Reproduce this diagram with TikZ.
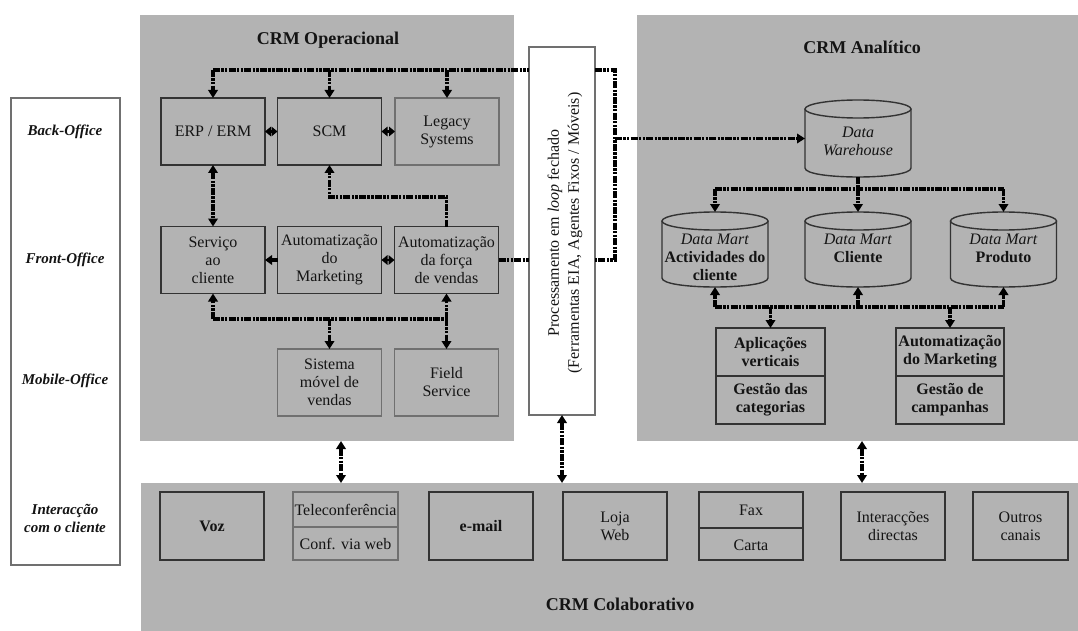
\documentclass[tikz,border=0pt]{standalone}
\usepackage{fontspec}
\setmainfont{Liberation Serif}
\usetikzlibrary{arrows.meta,calc}
\definecolor{pgray}{HTML}{B3B3B3}
\definecolor{bdark}{HTML}{333333}
\definecolor{blight}{HTML}{707070}
\definecolor{ink}{HTML}{141414}
\newcommand\dbcyl[3]{%
  \fill[pgray] ({#1-53},{#2+9}) -- ({#1-53},{#3-9}) .. controls ({#1-53},{#3+3}) and ({#1+53},{#3+3}) .. ({#1+53},{#3-9}) -- ({#1+53},{#2+9}) -- cycle;
  \draw[bdark,line width=1.4] ({#1-53},{#2+9}) -- ({#1-53},{#3-9}) .. controls ({#1-53},{#3+3}) and ({#1+53},{#3+3}) .. ({#1+53},{#3-9}) -- ({#1+53},{#2+9});
  \draw[bdark,line width=1.4,fill=pgray] (#1,{#2+9}) ellipse (53 and 9);}
\begin{document}
\begin{tikzpicture}[x=1pt,y=-1pt,
  every node/.style={text=ink},
  panel/.style={fill=pgray,draw=none,inner sep=0,outer sep=0},
  box/.style={draw=bdark,line width=1.4,fill=pgray,inner sep=0,outer sep=0,align=center,
    minimum width=104,minimum height=67,font=\fontsize{16}{18}\selectfont},
  lbox/.style={box,draw=blight},
  txt/.style={inner sep=0,align=center,font=\fontsize{16}{18}\selectfont},
  btxt/.style={txt,font=\fontsize{16}{18}\selectfont\bfseries},
  title/.style={inner sep=0,font=\fontsize{18}{20}\selectfont\bfseries},
  side/.style={inner sep=0,align=center,font=\fontsize{15}{18}\selectfont\bfseries\itshape},
  conn/.style={line width=3.2,dash pattern=on 7pt off 1.3pt on 2.4pt off 1.3pt on 2.4pt off 1.3pt},
  >={Triangle[length=8pt,width=9.5pt]},
  short/.style={line width=2.6,{Triangle[length=6pt,width=9.5pt]}-{Triangle[length=6pt,width=9.5pt]}},
  shortr/.style={conn,-{Triangle[length=7pt,width=9.5pt]}}
]
\useasboundingbox (0,0) rectangle (1078,631);
\fill[white] (0,0) rectangle (1078,631);

% panels
\node[panel,minimum width=374,minimum height=426] (op) at (327,228) {};
\node[panel,minimum width=441,minimum height=426] (an) at (857.5,228) {};
\node[panel,minimum width=937,minimum height=148] (col) at (609.5,557) {};
\node[title] (opt) at (328,40) {CRM Operacional};
\node[title] (ant) at (862,47) {CRM Analítico};
\node[title] (colt) at (620,604) {CRM Colaborativo};

% left label column
\node[draw=blight,fill=white,line width=1.3,inner sep=0,minimum width=109,minimum height=467] (lb) at (65.5,331.5) {};
\node[side] (l1) at (65,132) {Back-Office};
\node[side] (l2) at (65,260) {Front-Office};
\node[side] (l3) at (65,381) {Mobile-Office};
\node[side] (l4) at (65,518) {Interacção\\com o cliente};

% processing box
\node[draw=blight,fill=white,line width=1.3,inner sep=0,outer sep=0,minimum width=66,minimum height=368] (proc) at (562,231) {};
\node[txt,rotate=90,font=\fontsize{16}{20}\selectfont] (proct) at (565,233) {Processamento em \textit{loop} fechado\\(Ferramentas EIA, Agentes Fixos / Móveis)};

% CRM Operacional boxes
\node[box] (erp) at (213,131.5) {ERP / ERM};
\node[box] (scm) at (329.5,131.5) {SCM};
\node[lbox] (leg) at (447,131.5) {Legacy\\Systems};
\node[box] (serv) at (213,260) {Serviço\\ao\\cliente};
\node[box] (amk) at (329.5,260) {Automatização\\do\\Marketing};
\node[box] (afv) at (446.5,260) {Automatização\\da força\\de vendas};
\node[lbox] (smv) at (329.5,382.5) {Sistema\\móvel de\\vendas};
\node[lbox] (fs) at (446.5,382.5) {Field\\Service};

% connectors in CRM Operacional
\coordinate (t1) at (213,70);
\coordinate (t2) at (329.5,70);
\coordinate (t3) at (447,70);
\draw[conn] (t1) -- (proc.west |- t1);
\draw[conn,->] (t1) -- (erp.north);
\draw[conn,->] (t2) -- (scm.north);
\draw[conn,->] (t3) -- (leg.north);
\draw[short] (erp.east) -- (scm.west);
\draw[short] (scm.east) -- (leg.west);
\draw[short] (afv.west) -- (amk.east);
\draw[shortr] (amk.west) -- (serv.east);
\draw[conn,<->] (erp.south) -- (serv.north);
\coordinate (f1) at (446.5,197);
\coordinate (f2) at (329.5,197);
\draw[conn,->] (afv.north) -- (f1) -- (f2) -- (scm.south);
\coordinate (b1) at (213,319);
\coordinate (b2) at (329.5,319);
\coordinate (b3) at (446.5,319);
\draw[conn] (b1) -- (b3);
\draw[conn,->] (b1) -- (serv.south);
\draw[conn,->] (b2) -- (smv.north);
\draw[conn,->] (b3) -- (afv.south);
\draw[conn,->] (b3) -- (fs.north);
\draw[conn] (afv.east) -- (proc.west |- afv.east);

% loop on right of processing box
\coordinate (r1) at (615,70);
\coordinate (r2) at (615,260);
\coordinate (r3) at (615,138.5);
\draw[conn] (proc.east |- r1) -- (r1) -- (r2) -- (proc.east |- r2);

% CRM Analitico
\node[inner sep=0,outer sep=0,minimum width=106,minimum height=77] (dw) at (858,138.5) {};
\dbcyl{858}{100}{177}
\node[txt,font=\fontsize{16}{18}\selectfont\itshape] (dwt) at (858,141) {Data\\Warehouse};
\node[inner sep=0,outer sep=0,minimum width=106,minimum height=75] (dm1) at (715,249.5) {};
\node[inner sep=0,outer sep=0,minimum width=106,minimum height=75] (dm2) at (858,249.5) {};
\node[inner sep=0,outer sep=0,minimum width=106,minimum height=75] (dm3) at (1003.5,249.5) {};
\dbcyl{715}{212}{287}
\dbcyl{858}{212}{287}
\dbcyl{1003.5}{212}{287}
\node[btxt,anchor=north] (dm1t) at (715,234) {\textit{\mdseries Data Mart}\\Actividades do\\cliente};
\node[btxt,anchor=north] (dm2t) at (858,234) {\textit{\mdseries Data Mart}\\Cliente};
\node[btxt,anchor=north] (dm3t) at (1003.5,234) {\textit{\mdseries Data Mart}\\Produto};

\draw[conn,->] (r3) -- (dw.west);
\coordinate (d0) at (858,189);
\coordinate (d1) at (715,189);
\coordinate (d3) at (1003.5,189);
\draw[conn] (dw.south) -- (d0);
\draw[conn] (d1) -- (d3);
\draw[conn,->] (d1) -- (dm1.north);
\draw[conn,->] (d0) -- (dm2.north);
\draw[conn,->] (d3) -- (dm3.north);

\node[box,minimum width=109,minimum height=96] (apl) at (770.5,376) {};
\draw[bdark,line width=1.4] (apl.west) -- (apl.east);
\node[btxt] (apl1) at (770.5,352) {Aplicações\\verticais};
\node[btxt] (apl2) at (770.5,400) {Gestão das\\categorias};
\node[box,minimum width=108,minimum height=96] (amk2) at (950,376) {};
\draw[bdark,line width=1.4] (amk2.west) -- (amk2.east);
\node[btxt] (amk2a) at (950,352) {Automatização\\do Marketing};
\node[btxt] (amk2b) at (950,400) {Gestão de\\campanhas};

\coordinate (e1) at (715,307);
\coordinate (e2) at (858,307);
\coordinate (e3) at (1003.5,307);
\coordinate (e4) at (770.5,307);
\coordinate (e5) at (950,307);
\draw[conn] (e1) -- (e3);
\draw[conn,->] (e1) -- (dm1.south);
\draw[conn,->] (e2) -- (dm2.south);
\draw[conn,->] (e3) -- (dm3.south);
\draw[conn,->] (e4) -- (apl.north);
\draw[conn,->] (e5) -- (amk2.north);

% CRM Colaborativo boxes
\node[box,minimum height=68,font=\fontsize{16}{18}\selectfont\bfseries] (voz) at (212,526) {Voz};
\node[lbox,minimum width=105,minimum height=68] (tel) at (345.5,526) {};
\draw[blight,line width=1.4] ([yshift=-1pt]tel.west) -- ([yshift=-1pt]tel.east);
\node[txt] (tel1) at (345.5,510) {Teleconferência};
\node[txt] (tel2) at (345.5,544) {Conf. via web};
\node[box,minimum height=68,font=\fontsize{16}{18}\selectfont\bfseries] (mail) at (481,526) {e-mail};
\node[box,minimum height=68] (loja) at (615,526) {Loja\\Web};
\node[box,minimum height=68] (fax) at (751,526) {};
\draw[bdark,line width=1.4] ([yshift=-2pt]fax.west) -- ([yshift=-2pt]fax.east);
\node[txt] (fax1) at (751,510) {Fax};
\node[txt] (fax2) at (751,545) {Carta};
\node[box,minimum height=68] (inter) at (893,526) {Interacções\\directas};
\node[box,minimum width=95,minimum height=68] (outros) at (1020.5,526) {Outros\\canais};

% links between panels
\coordinate (c1) at (341,441);
\coordinate (c2) at (862,441);
\draw[conn,<->] (c1) -- (c1 |- col.north);
\draw[conn,<->] (proc.south) -- (proc.south |- col.north);
\draw[conn,<->] (c2) -- (c2 |- col.north);
\end{tikzpicture}
\end{document}
